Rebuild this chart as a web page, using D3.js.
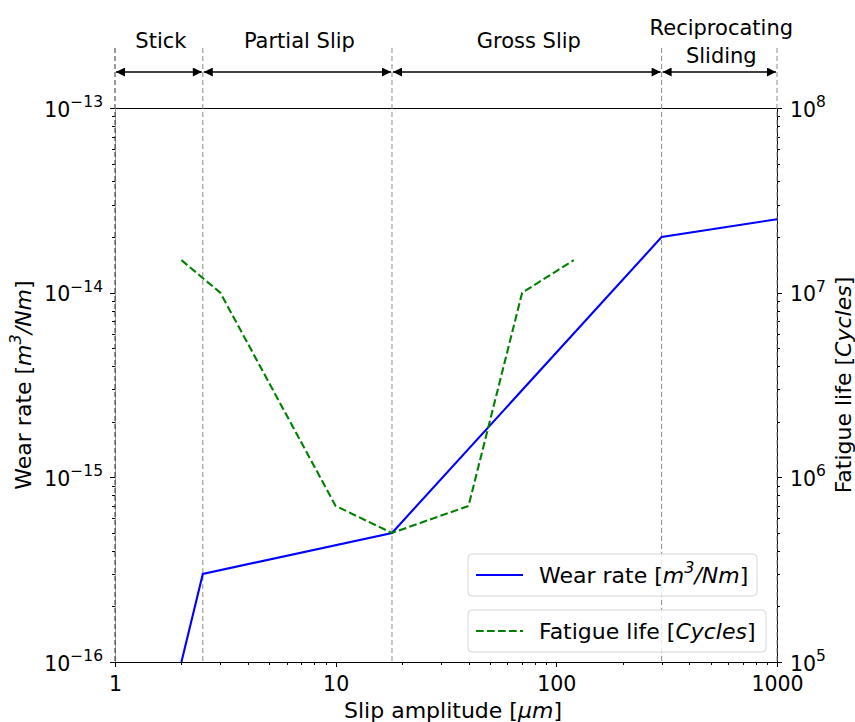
<!DOCTYPE html>
<html>
<head>
<meta charset="utf-8">
<script src="https://cdn.jsdelivr.net/npm/d3@7"></script>
<style>
  body { margin: 0; background: #fff; }
  svg { font-family: "DejaVu Sans", sans-serif; }
</style>
</head>
<body>
<div id="chart"></div>
<script>
// Data
var wearX = [2, 2.5, 18, 300, 1000];
var wearY = [1e-16, 3e-16, 5e-16, 2e-14, 2.5e-14];
var fatigueX = [2, 3, 10, 18, 40, 70, 120];
var fatigueY = [1.5e7, 1e7, 7e5, 5e5, 7e5, 1e7, 1.5e7];
var regionEdges = [1, 2.5, 18, 300, 1000];
var regionNames = [["Stick"], ["Partial Slip"], ["Gross Slip"], ["Reciprocating", "Sliding"]];
var xTicks = [1, 10, 100, 1000];
var xTickLabels = ["1", "10", "100", "1000"];
var leftTicks = [1e-16, 1e-15, 1e-14, 1e-13];
var leftExps = ["\u221216", "\u221215", "\u221214", "\u221213"];
var rightTicks = [1e5, 1e6, 1e7, 1e8];
var rightExps = ["5", "6", "7", "8"];

var W = 855, H = 722;
var m = {left: 115, right: 777, top: 108, bottom: 662};
var tickFont = "20.5px", supFont = "15.5px", labelFont = "22px";

var svg = d3.select("#chart").append("svg")
	.attr("width", W).attr("height", H);

var x = d3.scaleLog().domain([1, 1000]).range([m.left, m.right]);
var yL = d3.scaleLog().domain([1e-16, 1e-13]).range([m.bottom, m.top]);
var yR = d3.scaleLog().domain([1e5, 1e8]).range([m.bottom, m.top]);

// minor tick values (2..9 per decade)
function minors(lo, hi) {
	var out = [];
	for (var e = lo; e < hi; e++)
		for (var k = 2; k < 10; k++) out.push(k * Math.pow(10, e));
	return out;
}

//////// axes ////////
function styleAxis(g) {
	g.attr("font-family", "DejaVu Sans");
	g.select(".domain").remove();
	g.selectAll("line").attr("stroke", "#000").attr("stroke-width", 1).attr("shape-rendering", "crispEdges");
	g.selectAll("text").attr("fill", "#000");
}

// bottom
svg.append("g").attr("transform", "translate(0," + m.bottom + ")")
	.call(d3.axisBottom(x).tickValues(minors(0, 3)).tickSize(3).tickFormat(""))
	.call(styleAxis);
svg.append("g").attr("transform", "translate(0," + m.bottom + ")")
	.call(d3.axisBottom(x).tickValues(xTicks).tickSize(5).tickPadding(9)
		.tickFormat(function(d, i) { return xTickLabels[i]; }))
	.call(styleAxis)
	.selectAll("text").attr("font-size", tickFont);

// left
svg.append("g").attr("transform", "translate(" + m.left + ",0)")
	.call(d3.axisLeft(yL).tickValues(minors(-16, -13)).tickSize(3).tickFormat(""))
	.call(styleAxis);
var gl = svg.append("g").attr("transform", "translate(" + m.left + ",0)")
	.call(d3.axisLeft(yL).tickValues(leftTicks).tickSize(5).tickFormat(""))
	.call(styleAxis);
gl.selectAll(".tick").append("text")
	.attr("x", -12).attr("y", 8).attr("text-anchor", "end")
	.attr("font-size", tickFont).attr("fill", "#000")
	.each(function(d, i) {
		var t = d3.select(this);
		t.append("tspan").text("10");
		t.append("tspan").attr("font-size", supFont).attr("dy", -9.5).text(leftExps[i]);
	});

// right
svg.append("g").attr("transform", "translate(" + m.right + ",0)")
	.call(d3.axisRight(yR).tickValues(minors(5, 8)).tickSize(3).tickFormat(""))
	.call(styleAxis);
var gr = svg.append("g").attr("transform", "translate(" + m.right + ",0)")
	.call(d3.axisRight(yR).tickValues(rightTicks).tickSize(5).tickFormat(""))
	.call(styleAxis);
gr.selectAll(".tick").append("text")
	.attr("x", 13).attr("y", 8).attr("text-anchor", "start")
	.attr("font-size", tickFont).attr("fill", "#000")
	.each(function(d, i) {
		var t = d3.select(this);
		t.append("tspan").text("10");
		t.append("tspan").attr("font-size", supFont).attr("dy", -9.5).text(rightExps[i]);
	});

// spines
var spines = [
	[m.left, m.top, m.right, m.top, "#000"],
	[m.left, m.bottom, m.right, m.bottom, "#000"],
	[m.right, m.top, m.right, m.bottom, "#000"],
	[m.left, m.top, m.left, m.bottom, "#999"]
];
svg.selectAll(".spine").data(spines).enter().append("line")
	.attr("class", "spine")
	.attr("x1", function(d) { return d[0]; }).attr("y1", function(d) { return d[1]; })
	.attr("x2", function(d) { return d[2]; }).attr("y2", function(d) { return d[3]; })
	.attr("stroke", function(d) { return d[4]; }).attr("stroke-width", 1)
	.attr("shape-rendering", "crispEdges");

//////// region markers ////////
svg.selectAll(".vline").data(regionEdges).enter().append("line")
	.attr("class", "vline")
	.attr("x1", function(d) { return x(d); }).attr("x2", function(d) { return x(d); })
	.attr("y1", 48).attr("y2", m.bottom)
	.attr("stroke", function(d, i) { return i == 0 ? "#333" : "#8c8c8c"; })
	.attr("stroke-width", 1)
	.attr("stroke-dasharray", "5,3");

// arrow heads
var defs = svg.append("defs");
defs.append("marker").attr("id", "ah")
	.attr("viewBox", "0 0 10 10").attr("refX", 10).attr("refY", 5)
	.attr("markerUnits", "userSpaceOnUse")
	.attr("markerWidth", 10).attr("markerHeight", 9)
	.attr("orient", "auto-start-reverse")
	.append("path").attr("d", "M0,0L10,5L0,10Z").attr("fill", "#000");

var regions = d3.range(regionNames.length).map(function(i) {
	return {a: regionEdges[i], b: regionEdges[i + 1], name: regionNames[i]};
});

svg.selectAll(".arrow").data(regions).enter().append("line")
	.attr("class", "arrow")
	.attr("x1", function(d) { return x(d.a) + 1; })
	.attr("x2", function(d) { return x(d.b) - 1; })
	.attr("y1", 72).attr("y2", 72)
	.attr("stroke", "#000").attr("stroke-width", 1.6)
	.attr("marker-start", "url(#ah)").attr("marker-end", "url(#ah)");

svg.selectAll(".rlabel").data(regions).enter().append("text")
	.attr("class", "rlabel")
	.attr("x", function(d) { return x(Math.sqrt(d.a * d.b)) + 2; })
	.attr("y", function(d) { return d.name.length > 1 ? 35 : 48; })
	.attr("text-anchor", "middle").attr("font-size", "21px").attr("fill", "#000")
	.each(function(d) {
		var t = d3.select(this), cx = t.attr("x");
		d.name.forEach(function(s, j) {
			t.append("tspan").attr("x", cx).attr("dy", j == 0 ? 0 : 28).text(s);
		});
	});

//////// series ////////
var wearLine = d3.line()
	.x(function(d) { return x(d[0]); })
	.y(function(d) { return yL(d[1]); });
var fatigueLine = d3.line()
	.x(function(d) { return x(d[0]); })
	.y(function(d) { return yR(d[1]); });

svg.append("path")
	.datum(d3.zip(wearX, wearY))
	.attr("d", wearLine)
	.attr("fill", "none").attr("stroke", "#0000ff").attr("stroke-width", 2.1);

svg.append("path")
	.datum(d3.zip(fatigueX, fatigueY))
	.attr("d", fatigueLine)
	.attr("fill", "none").attr("stroke", "#008000").attr("stroke-width", 2.1)
	.attr("stroke-dasharray", "7.7,3.3");

//////// legends ////////
var legends = [
	{y: 554, w: 289, color: "#0000ff", dash: null, parts: [["Wear rate [", false], ["m", true], ["3", "sup"], ["/Nm", true], ["]", false]]},
	{y: 610, w: 298, color: "#008000", dash: "7.7,3.3", parts: [["Fatigue life [", false], ["Cycles", true], ["]", false]]}
];
var lg = svg.selectAll(".legend").data(legends).enter().append("g")
	.attr("class", "legend")
	.attr("transform", function(d) { return "translate(468," + d.y + ")"; });
lg.append("rect")
	.attr("width", function(d) { return d.w; }).attr("height", 42)
	.attr("rx", 4).attr("ry", 4)
	.attr("fill", "#fff").attr("fill-opacity", 0.8)
	.attr("stroke", "#d6d6d6").attr("stroke-width", 1);
lg.append("line")
	.attr("x1", 8).attr("x2", 55).attr("y1", 21).attr("y2", 21)
	.attr("stroke", function(d) { return d.color; }).attr("stroke-width", 2.1)
	.attr("stroke-dasharray", function(d) { return d.dash; });
lg.append("text")
	.attr("x", 71).attr("y", 29).attr("font-size", labelFont).attr("fill", "#000")
	.each(function(d) {
		var t = d3.select(this), raised = false;
		d.parts.forEach(function(p) {
			var ts = t.append("tspan").text(p[0]);
			if (p[1] === "sup") { ts.attr("font-size", "16px").attr("dy", -10).attr("font-style", "italic"); raised = true; }
			else {
				if (p[1]) ts.attr("font-style", "italic");
				if (raised) { ts.attr("dy", 10); raised = false; }
			}
		});
	});

//////// axis titles ////////
svg.append("text")
	.attr("x", (m.left + m.right) / 2 + 7).attr("y", 718)
	.attr("text-anchor", "middle").attr("font-size", labelFont).attr("fill", "#000")
	.call(function(t) {
		t.append("tspan").text("Slip amplitude [");
		t.append("tspan").attr("font-style", "italic").text("\u03bcm");
		t.append("tspan").text("]");
	});

svg.append("text")
	.attr("transform", "translate(31," + (m.top + m.bottom) / 2 + ") rotate(-90)")
	.attr("text-anchor", "middle").attr("font-size", labelFont).attr("fill", "#000")
	.call(function(t) {
		t.append("tspan").text("Wear rate [");
		t.append("tspan").attr("font-style", "italic").text("m");
		t.append("tspan").attr("font-style", "italic").attr("font-size", "16px").attr("dy", -10).text("3");
		t.append("tspan").attr("font-style", "italic").attr("dy", 10).text("/Nm");
		t.append("tspan").text("]");
	});

svg.append("text")
	.attr("transform", "translate(851," + (m.top + m.bottom) / 2 + ") rotate(-90)")
	.attr("text-anchor", "middle").attr("font-size", labelFont).attr("fill", "#000")
	.call(function(t) {
		t.append("tspan").text("Fatigue life [");
		t.append("tspan").attr("font-style", "italic").text("Cycles");
		t.append("tspan").text("]");
	});
</script>
</body>
</html>
